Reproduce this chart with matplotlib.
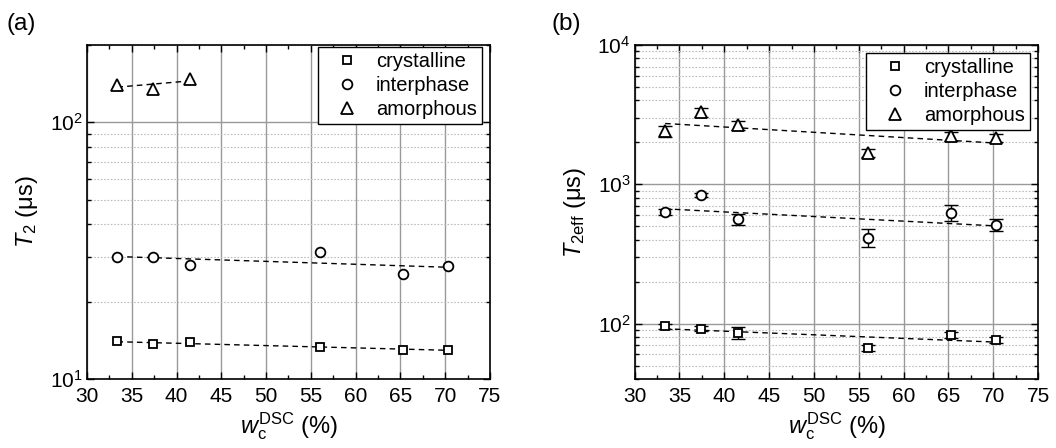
import numpy as np
import matplotlib.pyplot as plt
from matplotlib.ticker import MultipleLocator, LogLocator, NullFormatter

plt.rcParams['font.family'] = ['Liberation Sans', 'DejaVu Sans']
plt.rcParams['mathtext.fontset'] = 'custom'
plt.rcParams['mathtext.rm'] = 'Liberation Sans'
plt.rcParams['mathtext.it'] = 'Liberation Sans:italic'

# crystallinity from DSC (%)
wc = [33.4, 37.4, 41.5, 56.0, 65.3, 70.3]

# (a) T2 in microseconds
t2_cryst = [14.0, 13.7, 13.9, 13.3, 13.0, 13.0]
t2_inter = [30.0, 30.0, 27.9, 31.3, 25.7, 27.5]
t2_amorph = [140, 135, 148]          # only first three samples

# (b) T2eff in microseconds, with errors
t2e_cryst = [96, 92, 86, 67, 83, 76]
t2e_cryst_err = [4, 4, 8, 3, 4, 4]
t2e_inter = [630, 840, 561, 414, 627, 514]
t2e_inter_err = [30, 30, 50, 60, 80, 50]
t2e_amorph = [2400, 3300, 2650, 1680, 2210, 2150]
t2e_amorph_err = [220, 250, 200, 120, 150, 150]


def style_axes(ax, ylim):
    ax.set_yscale('log')
    ax.set_xlim(30, 75)
    ax.set_ylim(*ylim)
    ax.xaxis.set_major_locator(MultipleLocator(5))
    ax.xaxis.set_minor_locator(MultipleLocator(2.5))
    ax.yaxis.set_major_locator(LogLocator(base=10))
    ax.yaxis.set_minor_locator(LogLocator(base=10, subs=np.arange(2, 10)))
    ax.yaxis.set_minor_formatter(NullFormatter())
    ax.grid(True, which='major', color='#999999', lw=1.0, ls='-')
    ax.grid(True, which='minor', axis='y', color='#bdbdbd', lw=0.8, ls=(0, (1.5, 1.5)))
    ax.tick_params(which='both', direction='in', top=True, right=True, labelsize=15)
    ax.tick_params(which='major', length=5, width=1)
    ax.tick_params(which='minor', length=3, width=1)
    ax.tick_params(axis='x', pad=6)
    ax.tick_params(axis='y', pad=3)
    for s in ax.spines.values():
        s.set_linewidth(1.2)
    ax.set_axisbelow(True)
    ax.set_xlabel(r'$\mathit{w}_{\mathrm{c}}^{\mathrm{DSC}}$ (%)', fontsize=17, labelpad=3)


def fit_line(ax, x, y):
    x = np.asarray(x, float)
    p = np.polyfit(x, np.log10(y), 1)
    xx = np.linspace(x.min(), x.max(), 50)
    ax.plot(xx, 10 ** np.polyval(p, xx), ls=(0, (4, 3)), color='black', lw=1.0, zorder=2)


def add_legend(ax, anchor):
    leg = ax.legend(loc='upper right', bbox_to_anchor=anchor, fontsize=14.5,
                    frameon=True, fancybox=False, edgecolor='black', framealpha=1,
                    handletextpad=0.25, borderpad=0.25, labelspacing=0.25,
                    handlelength=2.4, borderaxespad=0)
    leg.get_frame().set_linewidth(1.0)


mk = dict(mfc='white', mec='black', mew=1.3, ls='none', zorder=3)
ms_sq, ms_ci, ms_tr = 6.2, 7, 8.5

fig = plt.figure(figsize=(10.56, 4.48), dpi=100)

# panel (a)
ax1 = fig.add_axes([0.0824, 0.154, 0.3816, 0.7456])
style_axes(ax1, (10, 200))
ax1.plot(wc, t2_cryst, marker='s', ms=ms_sq, label='crystalline', **mk)
ax1.plot(wc, t2_inter, marker='o', ms=ms_ci, label='interphase', **mk)
ax1.plot(wc[:3], t2_amorph, marker='^', ms=ms_tr, label='amorphous', **mk)
fit_line(ax1, wc, t2_cryst)
fit_line(ax1, wc, t2_inter)
fit_line(ax1, wc[:3], t2_amorph)
ax1.set_ylabel(r'$\mathit{T}_{\mathrm{2}}$ (μs)', fontsize=17, labelpad=7)
add_legend(ax1, (0.98, 0.994))
fig.text(0.006, 0.972, '(a)', fontsize=17.5, va='top')

# panel (b)
ax2 = fig.add_axes([0.601, 0.154, 0.382, 0.7456])
style_axes(ax2, (40, 1e4))
eb = dict(capsize=5, elinewidth=1, capthick=1, ecolor='black', fmt='none', zorder=2.5)
ax2.errorbar(wc, t2e_cryst, yerr=t2e_cryst_err, **eb)
ax2.errorbar(wc, t2e_inter, yerr=t2e_inter_err, **eb)
ax2.errorbar(wc, t2e_amorph, yerr=t2e_amorph_err, **eb)
ax2.plot(wc, t2e_cryst, marker='s', ms=ms_sq, label='crystalline', **mk)
ax2.plot(wc, t2e_inter, marker='o', ms=ms_ci, label='interphase', **mk)
ax2.plot(wc, t2e_amorph, marker='^', ms=ms_tr, label='amorphous', **mk)
fit_line(ax2, wc, t2e_cryst)
fit_line(ax2, wc, t2e_inter)
fit_line(ax2, wc, t2e_amorph)
ax2.set_ylabel(r'$\mathit{T}_{\mathrm{2eff}}$ (μs)', fontsize=17, labelpad=7)
add_legend(ax2, (0.98, 0.976))
fig.text(0.522, 0.972, '(b)', fontsize=17.5, va='top')

fig.savefig('out.png', dpi=100)
